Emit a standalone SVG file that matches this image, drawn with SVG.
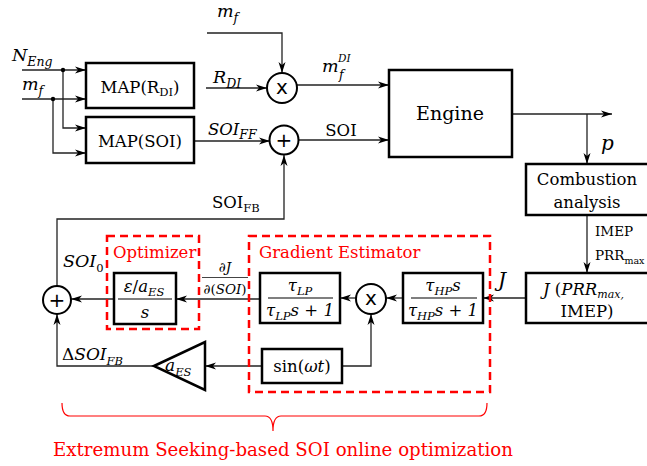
<svg xmlns="http://www.w3.org/2000/svg" width="647" height="466" viewBox="0 0 647 466">
<style>
.t{fill:#000;font-size:16.5px}
.it{font-style:italic}
.sm{font-size:13.5px}
.sub{font-size:11.5px}
.box{fill:#fff;stroke:#000;stroke-width:2.5}
.cir{fill:#fff;stroke:#000;stroke-width:2}
.ln{fill:none;stroke:#222;stroke-width:1.3}
.arr{marker-end:url(#ah)}
.dash{fill:none;stroke:#f00;stroke-width:2.5;stroke-dasharray:8 5}
.red{fill:#f00}
.op{font-size:20px;fill:#000}
</style>
<defs>
<marker id="ah" markerWidth="12" markerHeight="8" refX="11" refY="4" orient="auto" markerUnits="userSpaceOnUse">
<path d="M0,0.5 L11,4 L0,7.5 L3,4 z" fill="#000"/>
</marker>
</defs>
<rect width="647" height="466" fill="#fff"/>
<g font-family="DejaVu Serif, serif">
<g id="connectors">
<path class="ln arr" d="M22,70 H86"/>
<path class="ln arr" d="M22,99 H86"/>
<path class="ln arr" d="M63,70 V128 H86"/>
<path class="ln arr" d="M53,99 V153 H86"/>
<circle cx="63" cy="70" r="2.2" fill="#000"/>
<circle cx="53" cy="99" r="2.2" fill="#000"/>
<path class="ln arr" d="M207,33 H282 V73"/>
<path class="ln arr" d="M206,88 H267"/>
<path class="ln arr" d="M297,85 H389"/>
<path class="ln arr" d="M194,141 H270"/>
<path class="ln arr" d="M299,140 H389"/>
<path class="ln arr" d="M512,114 H612"/>
<path class="ln arr" d="M587,114 V164"/>
<path class="ln arr" d="M587,215 V273"/>
<path class="ln arr" d="M526,298 H483"/>
<path class="ln arr" d="M403,298 H386"/>
<path class="ln arr" d="M356,298 H340"/>
<path class="ln arr" d="M342,366 H371 V314"/>
<path class="ln arr" d="M260,299 H176"/>
<path class="ln arr" d="M114,299 H71"/>
<path class="ln arr" d="M262,366 H205"/>
<path class="ln arr" d="M154,366 H57 V314"/>
<path class="ln arr" d="M57,286 V219 H284 V155"/>
</g>

<g id="labels">
<text class="t it" x="12" y="61" style="font-size:17.5px">N<tspan style="font-size:12.5px" dy="5">Eng</tspan></text>
<text class="t it" x="22" y="90" style="font-size:17.5px">m<tspan style="font-size:12.5px" dy="5">f</tspan></text>
<text class="t it" x="217" y="17" style="font-size:17.5px">m<tspan style="font-size:12.5px" dy="5">f</tspan></text>
<text class="t it" x="213" y="83" style="font-size:17.5px">R<tspan style="font-size:12.5px" dy="5">DI</tspan></text>
<text class="t it" x="322" y="72" style="font-size:17.5px">m</text>
<text class="t it" x="338" y="62" style="font-size:10.5px">DI</text>
<text class="t it" x="339" y="79" style="font-size:12.5px">f</text>
<text class="t it" x="208" y="135">SOI<tspan style="font-size:12.5px" dy="4">FF</tspan></text>
<text class="t" x="341" y="136" text-anchor="middle">SOI</text>
<text class="t it" x="601" y="150" style="font-size:20px">p</text>
<text class="t sm" x="595" y="236">IMEP</text>
<text class="t sm" x="595" y="260">PRR<tspan style="font-size:9.5px" dy="4">max</tspan></text>
<text class="t it" x="498" y="287" style="font-size:20px">J</text>
<text class="t sm" x="225" y="272" text-anchor="middle">∂<tspan class="it">J</tspan></text>
<path d="M202,277.5 H248" stroke="#444" stroke-width="1"/>
<text class="t sm" x="225" y="294" text-anchor="middle">∂(<tspan class="it">SOI</tspan>)</text>
<text class="t it" x="63" y="267" style="font-size:17.5px">SOI<tspan class="sub" dy="5" font-style="normal">0</tspan></text>
<text class="t" x="212" y="208">SOI<tspan class="sub" dy="4">FB</tspan></text>
<text class="t" x="62" y="360" style="font-size:17px">Δ<tspan class="it">SOI</tspan><tspan class="sub it" dy="5">FB</tspan></text>
</g>

<g id="map-rdi"><rect class="box" x="86" y="63" width="108" height="45"/>
<text class="t" x="140" y="93" text-anchor="middle">MAP(R<tspan class="sub" dy="3">DI</tspan><tspan dy="-3">)</tspan></text></g>

<g id="map-soi"><rect class="box" x="86" y="117" width="108" height="46"/>
<text class="t" x="140" y="147" text-anchor="middle">MAP(SOI)</text></g>

<g id="mult1"><circle class="cir" cx="282" cy="88" r="15"/>
<text class="op" x="282" y="94" text-anchor="middle" font-family="DejaVu Sans, sans-serif">x</text></g>

<g id="sum1"><circle class="cir" cx="284" cy="140" r="14.5"/>
<text class="op" x="284" y="147" text-anchor="middle" font-family="DejaVu Sans, sans-serif">+</text></g>

<g id="engine"><rect class="box" x="389" y="70" width="123" height="87"/>
<text class="t" x="450" y="120" style="font-size:19px" text-anchor="middle">Engine</text></g>

<g id="combustion"><rect class="box" x="526" y="164" width="126" height="51"/>
<text class="t" x="587" y="185" text-anchor="middle">Combustion</text>
<text class="t" x="587" y="208" text-anchor="middle">analysis</text></g>

<g id="cost"><rect class="box" x="526" y="273" width="126" height="50"/>
<text class="t" x="543" y="295"><tspan class="it">J</tspan> (<tspan class="it">PRR</tspan><tspan class="it" style="font-size:11px" dy="3">max,</tspan></text>
<text class="t" x="587" y="317" text-anchor="middle">IMEP)</text></g>

<g id="hp-filter"><rect class="box" x="403" y="273" width="80" height="50"/>
<text class="t it" x="443" y="291" text-anchor="middle">τ<tspan class="sub" dy="4">HP</tspan><tspan dy="-4">s</tspan></text>
<path d="M411,298 H477" stroke="#000" stroke-width="1.2"/>
<text class="t it" x="443" y="316" text-anchor="middle">τ<tspan class="sub" dy="4">HP</tspan><tspan dy="-4">s</tspan><tspan font-style="normal"> + </tspan>1</text></g>

<g id="mult2"><circle class="cir" cx="371" cy="299" r="15"/>
<text class="op" x="371" y="305" text-anchor="middle" font-family="DejaVu Sans, sans-serif">x</text></g>

<g id="lp-filter"><rect class="box" x="260" y="273" width="80" height="50"/>
<text class="t it" x="300" y="291" text-anchor="middle">τ<tspan class="sub" dy="4">LP</tspan></text>
<path d="M268,298 H333" stroke="#000" stroke-width="1.2"/>
<text class="t it" x="300" y="316" text-anchor="middle">τ<tspan class="sub" dy="4">LP</tspan><tspan dy="-4">s</tspan><tspan font-style="normal"> + </tspan>1</text></g>

<g id="sin"><rect class="box" x="262" y="349" width="80" height="34"/>
<text class="t" x="302" y="372" text-anchor="middle">sin(<tspan class="it">ωt</tspan>)</text></g>

<g id="integrator"><rect class="box" x="114" y="273" width="62" height="51"/>
<text class="t it" x="144" y="292" text-anchor="middle">ε<tspan font-style="normal">/</tspan>a<tspan class="sub" dy="4">ES</tspan></text>
<path d="M118,299 H172" stroke="#000" stroke-width="1.2"/>
<text class="t it" x="145" y="318" text-anchor="middle">s</text></g>

<g id="sum2"><circle class="cir" cx="57" cy="300" r="14"/>
<text class="op" x="57" y="307" text-anchor="middle" font-family="DejaVu Sans, sans-serif">+</text></g>

<g id="gain"><path class="box" d="M154,366 L205,342 L205,390 Z" stroke-linejoin="miter"/>
<text class="t it" x="165" y="371" style="font-size:17px">a<tspan class="sub" dy="5">ES</tspan></text></g>

<g id="optimizer-frame"><rect class="dash" x="107" y="236" width="92" height="93"/>
<text class="t red" x="113" y="258">Optimizer</text></g>

<g id="gradient-frame"><rect class="dash" x="249" y="236" width="241" height="156"/>
<text class="t red" x="259" y="258">Gradient Estimator</text></g>

<g id="es-brace">
<path d="M62,403 Q62,416 70,416 H265 Q273,416 273,431 Q273,416 281,416 H479 Q487,416 487,403" fill="none" stroke="#f00" stroke-width="1.2"/>
<text class="t red" x="53" y="456" style="font-size:18.5px" textLength="460" lengthAdjust="spacingAndGlyphs">Extremum Seeking-based SOI online optimization</text>
</g>
</g>
</svg>
